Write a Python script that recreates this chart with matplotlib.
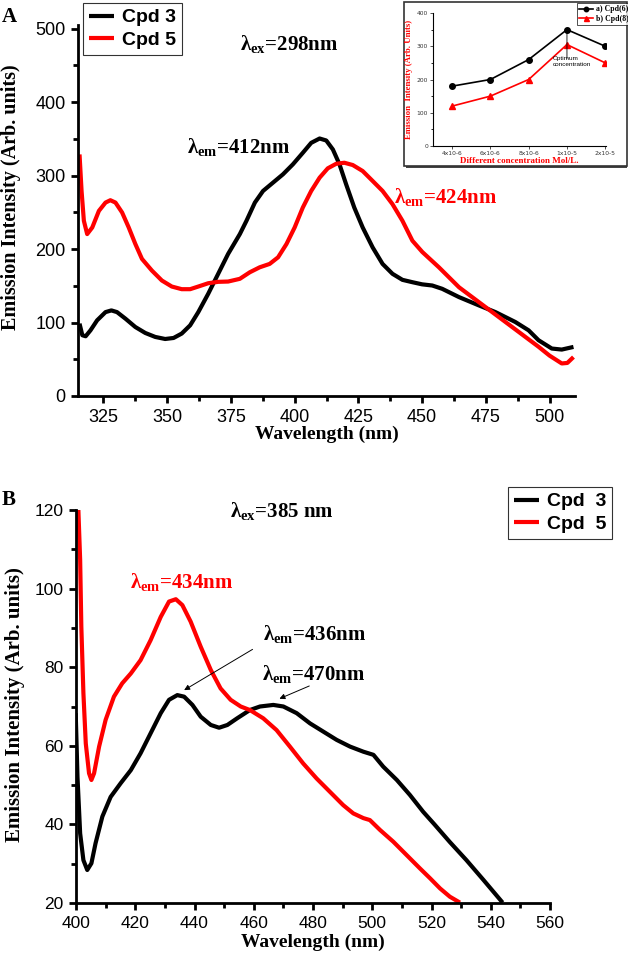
import matplotlib
matplotlib.use("Agg")
import matplotlib.pyplot as plt
from matplotlib.patches import Rectangle
from matplotlib.ticker import MultipleLocator

plt.rcParams['mathtext.fontset'] = 'custom'
plt.rcParams['mathtext.rm'] = 'Liberation Serif:bold'
plt.rcParams['mathtext.bf'] = 'Liberation Serif:bold'
plt.rcParams['mathtext.it'] = 'Liberation Serif:bold'

# ---------------- Panel A data (lambda_ex = 298 nm) ----------------
a_cpd3_x = [315.6, 316.7, 318.0, 319.9, 322.5, 325.8, 328.1, 330.3, 333.6, 337.5, 341.4, 345.3,
            349.2, 352.5, 355.7, 359.0, 362.2, 366.1, 370.0, 373.9, 378.5, 381.1, 384.4, 387.6,
            391.5, 395.4, 399.3, 403.2, 406.5, 409.8, 412.4, 415.0, 417.6, 420.2, 423.4, 426.7,
            430.6, 434.5, 438.4, 442.3, 446.2, 450.0, 454.0, 457.9, 464.5, 472.3, 478.8, 486.6,
            491.8, 495.7, 500.9, 504.8, 509.4]
a_cpd3_y = [98.5, 82.7, 81.3, 89.4, 103.0, 114.2, 116.5, 114.2, 105.3, 93.9, 85.8, 80.4,
            77.6, 79.0, 85.0, 96.2, 114.2, 139.2, 166.3, 193.4, 220.4, 238.5, 263.3, 279.1,
            290.4, 301.7, 315.3, 331.0, 344.6, 350.5, 347.8, 335.6, 315.3, 288.2, 256.5, 229.4,
            202.3, 179.8, 166.3, 158.1, 154.9, 152.0, 150.4, 145.9, 134.6, 123.3, 114.2, 100.7,
            89.4, 75.9, 64.6, 63.2, 66.8]
a_cpd5_x = [315.6, 316.4, 317.3, 318.6, 320.6, 323.2, 325.8, 327.7, 329.7, 332.3, 334.9, 337.5,
            340.1, 344.0, 347.9, 351.8, 355.7, 359.0, 362.2, 366.1, 370.0, 373.9, 378.5, 382.4,
            386.3, 390.2, 393.5, 396.8, 400.0, 403.2, 406.5, 409.8, 413.0, 416.3, 419.5, 422.8,
            426.7, 430.6, 434.5, 438.4, 442.3, 446.2, 450.1, 456.6, 464.5, 474.9, 485.3, 495.7,
            500.0, 504.8, 507.0, 509.4]
a_cpd5_y = [328.8, 279.0, 238.5, 220.4, 229.4, 252.0, 263.3, 266.5, 263.3, 249.8, 229.4, 206.9,
            186.6, 170.7, 157.2, 149.0, 145.4, 145.4, 149.0, 153.5, 155.4, 155.8, 159.5, 168.4,
            175.2, 179.8, 188.8, 206.9, 229.4, 256.5, 279.1, 297.2, 309.9, 316.1, 317.5, 314.4,
            306.2, 292.7, 279.1, 261.1, 238.5, 211.4, 196.0, 175.2, 148.0, 121.0, 94.0, 67.0,
            55.0, 44.3, 45.0, 53.0]

# ---------------- Inset data ----------------
inset_cats = ['4x10-6', '6x10-6', '8x10-6', '1x10-5', '2x10-5']
inset_cpd6 = [180, 200, 260, 350, 300]
inset_cpd8 = [120, 150, 200, 305, 250]

# ---------------- Panel B data (lambda_ex = 385 nm) ----------------
b_cpd3_x = [399.9, 400.5, 401.4, 402.5, 403.8, 405.2, 406.6, 408.9, 411.7, 415.1, 418.5, 421.8,
            425.2, 428.6, 431.4, 434.2, 436.5, 439.3, 442.1, 445.5, 448.3, 451.1, 454.4, 458.7,
            462.1, 466.6, 470.0, 474.5, 479.0, 483.5, 488.0, 492.5, 497.0, 500.4, 503.7, 508.3,
            512.7, 517.2, 521.0, 526.2, 531.8, 537.5, 544.0]
b_cpd3_y = [68.3, 52.1, 37.7, 30.9, 28.4, 30.1, 35.2, 42.0, 47.0, 50.5, 53.8, 58.1,
            63.2, 68.3, 71.7, 72.9, 72.5, 70.4, 67.4, 65.3, 64.6, 65.3, 67.0, 69.1,
            70.0, 70.4, 70.0, 68.3, 65.7, 63.6, 61.5, 59.8, 58.5, 57.7, 54.7, 51.3,
            47.5, 43.2, 40.0, 35.5, 30.9, 25.9, 20.1]
b_cpd5_x = [400.8, 401.4, 401.8, 402.5, 403.3, 404.4, 405.2, 406.1, 407.8, 410.0, 412.8, 415.6,
            418.5, 421.8, 425.2, 428.6, 431.4, 433.7, 435.9, 438.7, 442.1, 445.5, 448.8, 452.2,
            455.6, 458.7, 463.2, 467.7, 472.2, 476.7, 481.2, 485.7, 490.2, 493.6, 497.0, 499.2,
            502.6, 507.1, 511.6, 516.1, 519.5, 522.9, 526.2, 529.6]
b_cpd5_y = [120.0, 107.3, 90.3, 73.4, 60.6, 53.0, 51.3, 53.0, 59.8, 66.6, 72.5, 75.9,
            78.4, 81.8, 86.9, 92.8, 96.7, 97.3, 95.8, 91.6, 85.2, 79.3, 74.6, 71.7,
            70.0, 69.1, 67.0, 64.0, 59.8, 55.5, 51.7, 48.3, 44.9, 42.8, 41.6, 41.1,
            38.6, 35.6, 32.2, 28.8, 26.3, 23.7, 21.6, 20.1]

W, H = 628, 960
fig = plt.figure(figsize=(W / 100, H / 100), dpi=100)

SERIF = 'Liberation Serif'
SANS = 'Liberation Sans'
RED = '#ff0000'
LINE_KW = dict(lw=3.0, solid_joinstyle='round', solid_capstyle='butt')


def style_axes(ax, tick_fs):
    for s in ['top', 'right']:
        ax.spines[s].set_visible(False)
    for s in ['left', 'bottom']:
        ax.spines[s].set_linewidth(2.0)
    ax.tick_params(which='major', direction='out', length=5, width=2, labelsize=tick_fs, pad=4)
    ax.tick_params(which='minor', direction='out', length=3.5, width=2)
    for lab in ax.get_xticklabels() + ax.get_yticklabels():
        lab.set_fontfamily(SANS)


def fax(px, py, pw, ph):
    return [px / W, 1 - (py + ph) / H, pw / W, ph / H]


# ================= Panel A =================
axA = fig.add_axes(fax(78, 25, 497, 371))
axA.plot(a_cpd3_x, a_cpd3_y, color='black', label='Cpd 3', **LINE_KW)
axA.plot(a_cpd5_x, a_cpd5_y, color=RED, label='Cpd 5', **LINE_KW)
axA.set_xlim(315, 510)
axA.set_ylim(0, 505)
axA.xaxis.set_major_locator(MultipleLocator(25))
axA.xaxis.set_minor_locator(MultipleLocator(12.5))
axA.yaxis.set_major_locator(MultipleLocator(100))
axA.yaxis.set_minor_locator(MultipleLocator(50))
style_axes(axA, 13)
axA.set_xlabel('Wavelength (nm)', fontfamily=SERIF, fontweight='bold', fontsize=14, labelpad=0)
axA.set_ylabel('Emission Intensity (Arb. units)', fontfamily=SERIF, fontweight='bold', fontsize=14.5)
axA.yaxis.set_label_coords(-0.1147, 0.536)

axA.text(378.5, 471, r'λ$_{\mathbf{ex}}$=298nm', fontfamily=SERIF, fontweight='bold', fontsize=15, va='baseline')
axA.text(357.8, 331, r'λ$_{\mathbf{em}}$=412nm', fontfamily=SERIF, fontweight='bold', fontsize=15, va='baseline')
axA.text(439, 263, r'λ$_{\mathbf{em}}$=424nm', fontfamily=SERIF, fontweight='bold', fontsize=15, va='baseline', color=RED)

legA = fig.legend(handles=axA.get_lines(), loc='upper left', bbox_to_anchor=(83 / W, 1 - 3 / H),
                  borderaxespad=0, frameon=True, fancybox=False, edgecolor='black',
                  prop=dict(family=SANS, weight='bold', size=14), handlelength=1.3,
                  handletextpad=0.4, borderpad=0.3, labelspacing=0.25)
legA.get_frame().set_linewidth(0.8)

fig.text(2 / W, 1 - 22 / H, 'A', fontfamily=SERIF, fontweight='bold', fontsize=15)

# ================= Inset =================
frame = Rectangle((404 / W, 1 - 166 / H), 223 / W, 164 / H, transform=fig.transFigure,
                  facecolor='white', edgecolor='#333333', lw=1.2, zorder=3)
shadow = Rectangle((406 / W, 1 - 168 / H), 221 / W, 164 / H, transform=fig.transFigure,
                   facecolor='#444444', edgecolor='none', zorder=2.9)
fig.patches.extend([shadow, frame])

axI = fig.add_axes(fax(433, 13, 173, 133), zorder=5)
axI.patch.set_alpha(0)
xi = list(range(len(inset_cats)))
axI.plot(xi, inset_cpd6, color='black', lw=1.2, marker='o', ms=4, label='a) Cpd(6)')
axI.plot(xi, inset_cpd8, color=RED, lw=1.2, marker='^', ms=4.5, label='b) Cpd(8)')
axI.set_xlim(-0.5, 4.02)
axI.set_ylim(0, 400)
axI.set_xticks(xi)
axI.set_xticklabels(inset_cats)
axI.yaxis.set_major_locator(MultipleLocator(100))
axI.yaxis.set_minor_locator(MultipleLocator(50))
for s in ['top', 'right']:
    axI.spines[s].set_visible(False)
for s in ['left', 'bottom']:
    axI.spines[s].set_linewidth(0.8)
axI.tick_params(which='major', length=2, width=0.6, labelsize=4.3, pad=1.5, colors='#333333')
axI.tick_params(which='minor', length=1.5, width=0.6)
axI.set_xlabel('Different concentration Mol/L.', fontfamily=SERIF, fontweight='bold', fontsize=6.5,
               color=RED, labelpad=1)
axI.set_ylabel('Emission  Intensity (Arb. Units)', fontfamily=SERIF, fontweight='bold', fontsize=6.3,
               color=RED, labelpad=3)
axI.annotate('', xy=(3, 350), xytext=(3, 255), arrowprops=dict(arrowstyle='-', lw=0.6, color='black'))
axI.text(2.62, 270, 'Optimum\nconcentration', fontfamily=SANS, fontsize=4.6, va='top', ha='left',
         linespacing=1.1)
legI = fig.legend(handles=axI.get_lines(), loc='upper left', bbox_to_anchor=(577 / W, 1 - 3 / H),
                  borderaxespad=0, frameon=True, fancybox=False, edgecolor='black',
                  prop=dict(family=SERIF, weight='bold', size=5.6), handlelength=1.8,
                  handletextpad=0.3, borderpad=0.3, labelspacing=0.2, markerscale=0.8)
legI.get_frame().set_linewidth(0.6)
legI.set_zorder(6)

# ================= Panel B =================
axB = fig.add_axes(fax(76, 510, 474, 393))
axB.plot(b_cpd3_x, b_cpd3_y, color='black', label='Cpd  3', **LINE_KW)
axB.plot(b_cpd5_x, b_cpd5_y, color=RED, label='Cpd  5', **LINE_KW)
axB.set_xlim(400, 560)
axB.set_ylim(20, 120)
axB.xaxis.set_major_locator(MultipleLocator(20))
axB.xaxis.set_minor_locator(MultipleLocator(10))
axB.yaxis.set_major_locator(MultipleLocator(20))
axB.yaxis.set_minor_locator(MultipleLocator(10))
style_axes(axB, 12.5)
axB.set_xlabel('Wavelength (nm)', fontfamily=SERIF, fontweight='bold', fontsize=14, labelpad=2)
axB.set_ylabel('Emission Intensity (Arb. units)', fontfamily=SERIF, fontweight='bold', fontsize=15)
axB.yaxis.set_label_coords(-0.1076, 0.504)

axB.text(452, 118.2, r'λ$_{\mathbf{ex}}$=385 nm', fontfamily=SERIF, fontweight='bold', fontsize=15, va='baseline')
axB.text(418.2, 100.2, r'λ$_{\mathbf{em}}$=434nm', fontfamily=SERIF, fontweight='bold', fontsize=15, va='baseline', color=RED)
axB.text(463.1, 86.9, r'λ$_{\mathbf{em}}$=436nm', fontfamily=SERIF, fontweight='bold', fontsize=15, va='baseline')
axB.text(462.8, 76.8, r'λ$_{\mathbf{em}}$=470nm', fontfamily=SERIF, fontweight='bold', fontsize=15, va='baseline')
axB.annotate('', xy=(435.7, 73.8), xytext=(460.4, 84.9),
             arrowprops=dict(arrowstyle='-|>', lw=0.7, color='black', mutation_scale=8))
axB.annotate('', xy=(467.8, 71.7), xytext=(479.6, 75.5),
             arrowprops=dict(arrowstyle='-|>', lw=0.7, color='black', mutation_scale=8))

legB = fig.legend(handles=axB.get_lines(), loc='upper left', bbox_to_anchor=(508 / W, 1 - 487 / H),
                  borderaxespad=0, frameon=True, fancybox=False, edgecolor='black',
                  prop=dict(family=SANS, weight='bold', size=14), handlelength=1.3,
                  handletextpad=0.4, borderpad=0.3, labelspacing=0.25)
legB.get_frame().set_linewidth(0.8)

fig.text(2 / W, 1 - 505 / H, 'B', fontfamily=SERIF, fontweight='bold', fontsize=15)

fig.savefig('out.png', dpi=100)
